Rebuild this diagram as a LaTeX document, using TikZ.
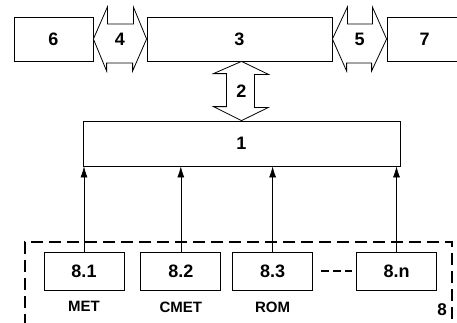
\documentclass[tikz,border=0pt]{standalone}
\usepackage{fontspec}
\setmainfont{Liberation Sans}
\usetikzlibrary{shapes,arrows,arrows.meta,calc,positioning}

\begin{document}
\begin{tikzpicture}[x=1pt,y=-1pt]
				\tikzstyle{common} = [draw, line width=0.8pt, inner sep=0, font=\fontsize{18}{20}\selectfont\bfseries]
				\tikzstyle{block} = [rectangle, common, minimum height=44pt]
				\tikzstyle{unit} = [rectangle, common, minimum width=80pt, minimum height=38pt]
				\tikzstyle{fat} = [draw, line width=0.8pt, fill=white, line join=miter]
				\tikzstyle{tag} = [inner sep=0, font=\fontsize{18}{20}\selectfont\bfseries]
				\tikzstyle{sub} = [inner sep=0, font=\fontsize{15}{17}\selectfont\bfseries]
				\tikzstyle{line} = [draw, line width=0.6pt, -{Latex[length=11pt,width=7pt]}]
				\tikzstyle{group} = [draw, line width=2.5pt, dash pattern=on 12pt off 6pt, inner sep=0]
				\useasboundingbox (0,0) rectangle (457,322);

				% top row
				\node[block, minimum width=79pt] (b6) at (53.5,39) {6};
				\node[block, minimum width=185pt] (b3) at (239.5,39) {3};
				\node[block, minimum width=75pt] (b7) at (424.5,39) {7};
				\node[block, minimum width=317pt, minimum height=45pt] (b1) at (241.5,143.5) {1};

				% group 8
				\node[group, minimum width=427pt, minimum height=100pt] (grp) at (238.5,292) {};
				\node[unit] (s1) at (84,271) {8.1};
				\node[unit, right=16pt of s1] (s2) {8.2};
				\node[unit, right=11pt of s2] (s3) {8.3};
				\node[unit] (sn) at (396.5,271) {8.n};
				\node[sub, below=11pt of s1] (met) {MET};
				\node[sub, below=11pt of s2] (cmet) {CMET};
				\node[sub, below=11pt of s3] (rom) {ROM};
				\node[tag, font=\fontsize{17}{19}\selectfont\bfseries] (l8) at (442,310) {8};

				% double arrows
				\draw[fat] (b6.east) -- ++(14,-32) -- ++(0,17) -- ++(26,0) -- ++(0,-17) -- (b3.west)
					-- ++(-14,32) -- ++(0,-8) -- ++(-26,0) -- ++(0,8) -- cycle;
				\node[tag] (a4) at ($(b6.east)!0.5!(b3.west)$) {4};
				\draw[fat] (b3.east) -- ++(15,-32) -- ++(0,17) -- ++(25,0) -- ++(0,-17) -- (b7.west)
					-- ++(-15,32) -- ++(0,-8) -- ++(-25,0) -- ++(0,8) -- cycle;
				\node[tag] (a5) at ($(b3.east)!0.5!(b7.west)$) {5};
				\draw[fat] (b1.north) -- ++(-28,-14) -- ++(13,0) -- ++(0,-33) -- ++(-13,0) -- (b1.north |- b3.south)
					-- ++(27,13) -- ++(-14,0) -- ++(0,33) -- ++(14,0) -- cycle;
				\node[tag] (a2) at ($(b1.north)!0.5!(b1.north |- b3.south)$) {2};

				% connections
				\draw[line] (s1.north) -- (s1 |- b1.south);
				\draw[line] (s2.north) -- (s2 |- b1.south);
				\draw[line] (s3.north) -- (s3 |- b1.south);
				\draw[line] (sn.north) -- (sn |- b1.south);
				\draw[line width=1.5pt, dash pattern=on 8pt off 4pt, shorten <=8pt, shorten >=4pt] (s3) -- (sn);
			\end{tikzpicture}
\end{document}
